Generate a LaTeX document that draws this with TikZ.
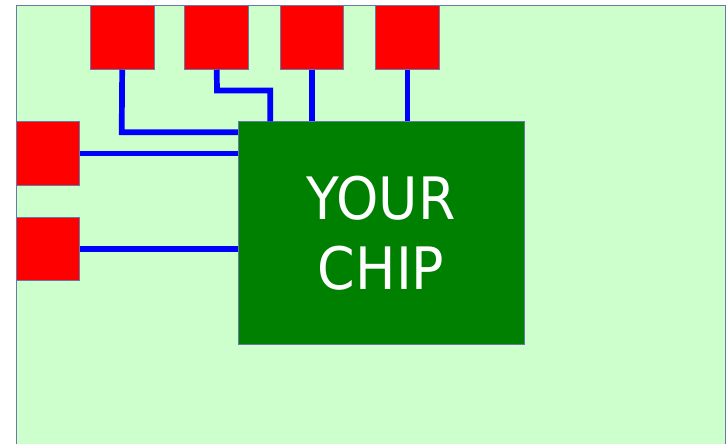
\documentclass[tikz,border=0pt]{standalone}
\usepackage{fontspec}
\newfontfamily\chipfont{DejaVu Sans}
\definecolor{bgreen}{HTML}{CCFFCC}
\definecolor{chipgreen}{HTML}{008000}
\definecolor{edgecol}{HTML}{6A78A8}
\begin{document}
\begin{tikzpicture}[x=1pt,y=-1pt,
  pad/.style={draw=edgecol,line width=0.9pt,fill=red,minimum size=63.6pt,inner sep=0pt},
  wire/.style={draw=blue,line width=5.7pt,line join=miter},
  chipbox/.style={draw=edgecol,line width=0.9pt,fill=chipgreen,minimum width=285.7pt,minimum height=222.6pt,inner sep=0pt,
     text=white,align=center,font=\chipfont\fontsize{58.5}{69.7}\selectfont}]
\useasboundingbox (0,0) rectangle (726,444);
% board
\fill[bgreen] (16,5.6) rectangle (725,444);
\draw[edgecol,line width=0.9pt] (16,450) -- (16,5.6) -- (725,5.6) -- (725,450);
% pads
\node[pad] (p1) at (122.2,37.5) {};
\node[pad] (p2) at (216.7,37.5) {};
\node[pad] (p3) at (312.0,37.5) {};
\node[pad] (p4) at (407.5,37.5) {};
\node[pad] (p5) at (47.9,153.5) {};
\node[pad] (p6) at (47.9,248.8) {};
% chip
\node[chipbox] (chip) at (381.15,233) {\scalebox{0.92}[1]{YOUR}\\\scalebox{0.92}[1]{CHIP}};
% wire bends
\coordinate (b1) at (121.7,132.3);
\coordinate (b2a) at (217.0,90.5);
\coordinate (b2b) at (270.2,90.5);
% wires
\begin{scope}[on background layer/.style={}]
\draw[wire] (p1.south) -- (b1) -- (chip.west |- b1);
\draw[wire] (p2.south) -- (b2a) -- (b2b) -- (chip.north -| b2b);
\draw[wire] (p3.south) -- (chip.north -| p3.south);
\draw[wire] (p4.south) -- (chip.north -| p4.south);
\draw[wire] (p5.east) -- (chip.west |- p5.east);
\draw[wire] (p6.east) -- (chip.west |- p6.east);
\end{scope}
\end{tikzpicture}
\end{document}
